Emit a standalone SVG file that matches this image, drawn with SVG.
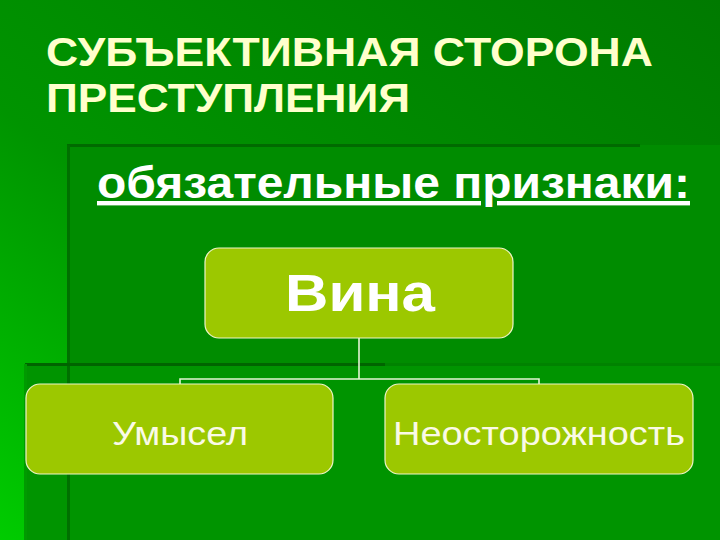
<svg xmlns="http://www.w3.org/2000/svg" width="720" height="540" viewBox="0 0 720 540">
<defs>
<linearGradient id="bg" x1="1" y1="0" x2="0" y2="1">
<stop offset="0" stop-color="#007a00"/>
<stop offset="0.6" stop-color="#009400"/>
<stop offset="1" stop-color="#00cc00"/>
</linearGradient>
</defs>
<style>
.title{font-family:"Liberation Sans",Arial,sans-serif;font-weight:bold;font-size:40px;fill:#ffffcc}
.sub{font-family:"Liberation Sans",Arial,sans-serif;font-weight:bold;font-size:44px;fill:#ffffff;text-decoration:underline}
.box{fill:#9cc800;stroke:#eef4c8;stroke-width:1.2}
.big{font-family:"Liberation Sans",Arial,sans-serif;font-weight:bold;font-size:51px;fill:#ffffff;text-anchor:middle}
.lbl{font-family:"Liberation Sans",Arial,sans-serif;font-size:34px;fill:#fafae6;text-anchor:middle}
.conn{fill:none;stroke:#e4f4d4;stroke-width:1.6}
</style>
<rect width="720" height="540" fill="url(#bg)"/>
<g id="decor">
<rect x="68" y="145" width="652" height="395" fill="#008c00"/>
<rect x="25" y="364" width="695" height="176" fill="#009400"/>
<rect x="67" y="144" width="573" height="3" fill="#006a00"/>
<rect x="67" y="145" width="3" height="395" fill="#007000"/>
<rect x="25" y="363" width="360" height="3" fill="#006400"/>
<rect x="385" y="363" width="335" height="3" fill="#008200"/>
<rect x="24" y="364" width="3" height="176" fill="#009a00"/>
</g>
<g id="title">
<text class="title" x="46" y="66" textLength="607" lengthAdjust="spacingAndGlyphs">СУБЪЕКТИВНАЯ СТОРОНА</text>
<text class="title" x="46" y="112" textLength="364" lengthAdjust="spacingAndGlyphs">ПРЕСТУПЛЕНИЯ</text>
</g>
<g id="subtitle">
<text class="sub" x="97" y="198" textLength="593" lengthAdjust="spacingAndGlyphs">обязательные признаки:</text>
</g>
<g id="connectors">
<path class="conn" d="M359 338V379M180 384V379H539V384"/>
</g>
<g id="node-vina">
<rect class="box" x="205" y="248" width="308" height="90" rx="14"/>
<text class="big" x="360" y="311" textLength="150" lengthAdjust="spacingAndGlyphs">Вина</text>
</g>
<g id="node-umysel">
<rect class="box" x="26" y="384" width="307" height="90" rx="14"/>
<text class="lbl" x="180" y="445" textLength="136" lengthAdjust="spacingAndGlyphs">Умысел</text>
</g>
<g id="node-neostorozhnost">
<rect class="box" x="385" y="384" width="308" height="90" rx="14"/>
<text class="lbl" x="539" y="445" textLength="292" lengthAdjust="spacingAndGlyphs">Неосторожность</text>
</g>
</svg>
